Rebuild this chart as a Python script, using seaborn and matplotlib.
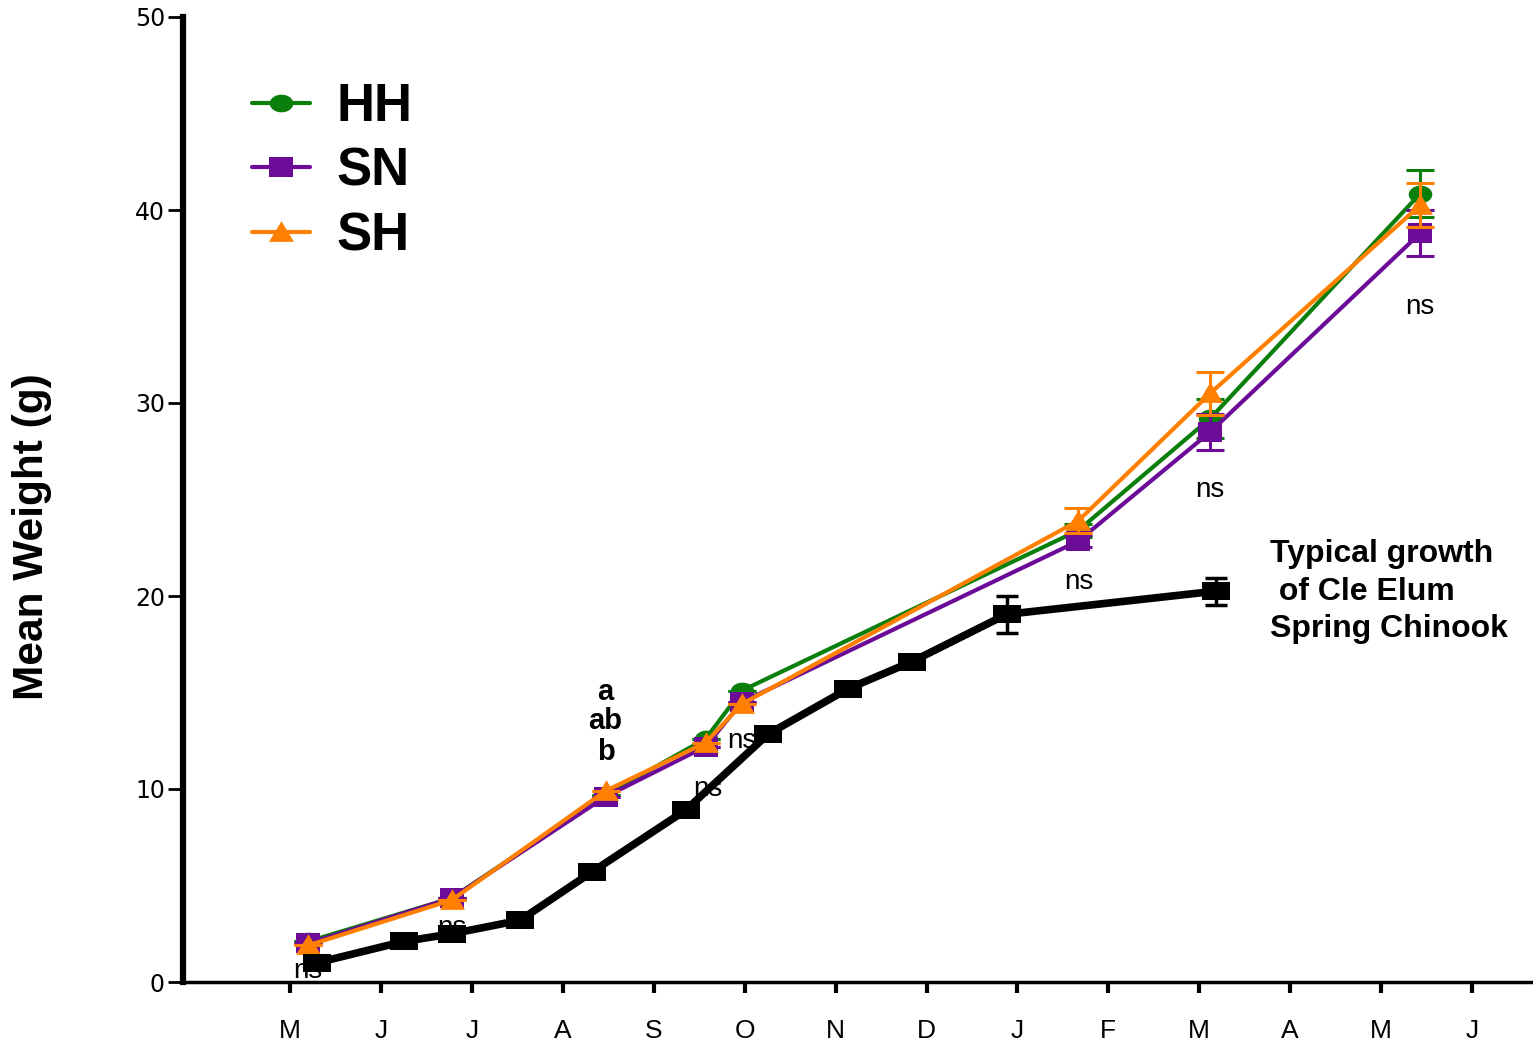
import matplotlib
matplotlib.use("Agg")
import matplotlib.pyplot as plt
from matplotlib.path import Path
from matplotlib.lines import Line2D
import seaborn as sns
import pandas as pd
import numpy as np

# Sampling dates expressed in months after 1 May (M = 0, J = 1, ...)
month_labels = ["M", "J", "J", "A", "S", "O", "N", "D", "J", "F", "M", "A", "M", "J"]

group_x = [0.20, 1.78, 3.47, 4.57, 4.97, 8.67, 10.12, 12.43]
hh_mean = [2.1, 4.35, 9.7, 12.6, 15.1, 23.4, 29.2, 40.85]
hh_err = [0.0, 0.0, 0.0, 0.0, 0.0, 0.35, 1.0, 1.2]
sn_mean = [2.0, 4.35, 9.6, 12.2, 14.5, 22.85, 28.5, 38.8]
sn_err = [0.0, 0.0, 0.0, 0.0, 0.0, 0.3, 0.95, 1.2]
sh_mean = [1.9, 4.25, 9.9, 12.4, 14.4, 23.9, 30.5, 40.25]
sh_err = [0.0, 0.0, 0.0, 0.0, 0.0, 0.65, 1.1, 1.15]

typical_x = [0.30, 1.25, 1.78, 2.53, 3.32, 4.35, 5.26, 6.14, 6.84, 7.88, 10.18]
typical_mean = [1.0, 2.1, 2.5, 3.2, 5.7, 8.9, 12.85, 15.2, 16.6, 19.05, 20.25]
typical_err = [0.0, 0.0, 0.0, 0.0, 0.0, 0.0, 0.0, 0.0, 0.0, 0.95, 0.7]

sns.set_theme(style="ticks")
plt.rcParams["font.family"] = ["Liberation Sans", "DejaVu Sans"]
plt.rcParams.update({
    "text.color": "black", "axes.labelcolor": "black", "axes.edgecolor": "black",
    "xtick.color": "black", "ytick.color": "black",
})

GREEN = "#0b7f0b"
PURPLE = "#6c0b98"
ORANGE = "#ff8000"

# Wide rectangle / ellipse markers
rect = Path([(-1, -0.68), (1, -0.68), (1, 0.68), (-1, 0.68), (-1, -0.68)],
            [Path.MOVETO, Path.LINETO, Path.LINETO, Path.LINETO, Path.CLOSEPOLY])
sq = Path([(-1, -0.82), (1, -0.82), (1, 0.82), (-1, 0.82), (-1, -0.82)],
          [Path.MOVETO, Path.LINETO, Path.LINETO, Path.LINETO, Path.CLOSEPOLY])
t = np.linspace(0, 2 * np.pi, 40)
ell = Path(np.column_stack([np.cos(t), 0.75 * np.sin(t)]))
tri = Path([(-1, -0.75), (1, -0.75), (0, 0.9), (-1, -0.75)],
           [Path.MOVETO, Path.LINETO, Path.LINETO, Path.CLOSEPOLY])

fig = plt.figure(figsize=(15.33, 10.44), dpi=100)
ax = fig.add_axes([183 / 1533, 62 / 1044, 1 - 183 / 1533, (982 - 17) / 1044])

# Significance labels (drawn beneath the data)
ns_pos = [(0.20, 0.55), (1.78, 2.8), (4.97, 12.5), (4.6, 10.0), (8.67, 20.7), (10.12, 25.5), (12.43, 35.0)]
for xx, yy in ns_pos:
    ax.text(xx, yy, "ns", fontsize=20, ha="center", va="center", zorder=1)
for yy, s in zip([15.0, 13.5, 11.9], ["a", "ab", "b"]):
    ax.text(3.47, yy, s, fontsize=21, fontweight="bold", ha="center", va="center")

series = [
    ("HH", group_x, hh_mean, hh_err, GREEN, ell, 17, 3),
    ("SN", group_x, sn_mean, sn_err, PURPLE, sq, 17, 4),
    ("SH", group_x, sh_mean, sh_err, ORANGE, tri, 18, 5),
]
for name, xs, ys, es, col, mk, ms, z in series:
    df = pd.DataFrame({"x": xs, "y": ys})
    sns.lineplot(data=df, x="x", y="y", ax=ax, color=col, lw=3.0, marker=mk,
                 markersize=ms, markeredgewidth=0, sort=False, zorder=z)
    ax.errorbar(xs, ys, yerr=es, fmt="none", ecolor=col, elinewidth=2.2,
                capsize=10, capthick=2.2, zorder=z)

df_t = pd.DataFrame({"x": typical_x, "y": typical_mean})
sns.lineplot(data=df_t, x="x", y="y", ax=ax, color="black", lw=5.5, marker=rect,
             markersize=20, markeredgewidth=0, sort=False, zorder=6)
ax.errorbar(typical_x, typical_mean, yerr=typical_err, fmt="none", ecolor="black",
            elinewidth=2.5, capsize=8, capthick=2.5, zorder=6)

# Axes
ax.set_xlim(-1.177, 13.67)
ax.set_ylim(0, 50)
ax.set_xticks(range(len(month_labels)))
ax.set_xticklabels(month_labels, fontsize=19)
ax.set_yticks([0, 10, 20, 30, 40, 50])
ax.set_yticklabels(["0", "10", "20", "30", "40", "50"], fontsize=17, family="DejaVu Sans")
ax.tick_params(axis="x", direction="out", length=8, width=3, pad=19)
ax.tick_params(axis="y", direction="out", length=11, width=2, pad=2)
ax.set_xlabel("")
ax.set_ylabel("Mean Weight (g)", fontsize=30.5, fontweight="bold")
ax.yaxis.set_label_coords(-0.097, 0.462)
ax.spines["left"].set_linewidth(4.5)
ax.spines["bottom"].set_linewidth(2.5)
ax.spines["right"].set_visible(False)
ax.spines["top"].set_visible(False)
ax.set_facecolor("white")

ax.text(10.78, 22.95, "Typical growth\n of Cle Elum\nSpring Chinook", fontsize=23,
        fontweight="bold", ha="left", va="top", linespacing=1.33)

# Legend
handles = [
    Line2D([], [], color=GREEN, lw=3, marker=ell, markersize=17, markeredgewidth=0),
    Line2D([], [], color=PURPLE, lw=3, marker=sq, markersize=17, markeredgewidth=0),
    Line2D([], [], color=ORANGE, lw=3, marker=tri, markersize=18, markeredgewidth=0),
]
leg = ax.legend(handles, ["HH", "SN", "SH"], loc="upper left",
                bbox_to_anchor=(252 / 1533, 1 - 82 / 1044), bbox_transform=fig.transFigure,
                frameon=False, prop={"weight": "bold", "size": 38},
                handlelength=1.1, handletextpad=0.5, labelspacing=0.28,
                borderpad=0, borderaxespad=0)

fig.savefig("out.png", dpi=100, facecolor="white")
